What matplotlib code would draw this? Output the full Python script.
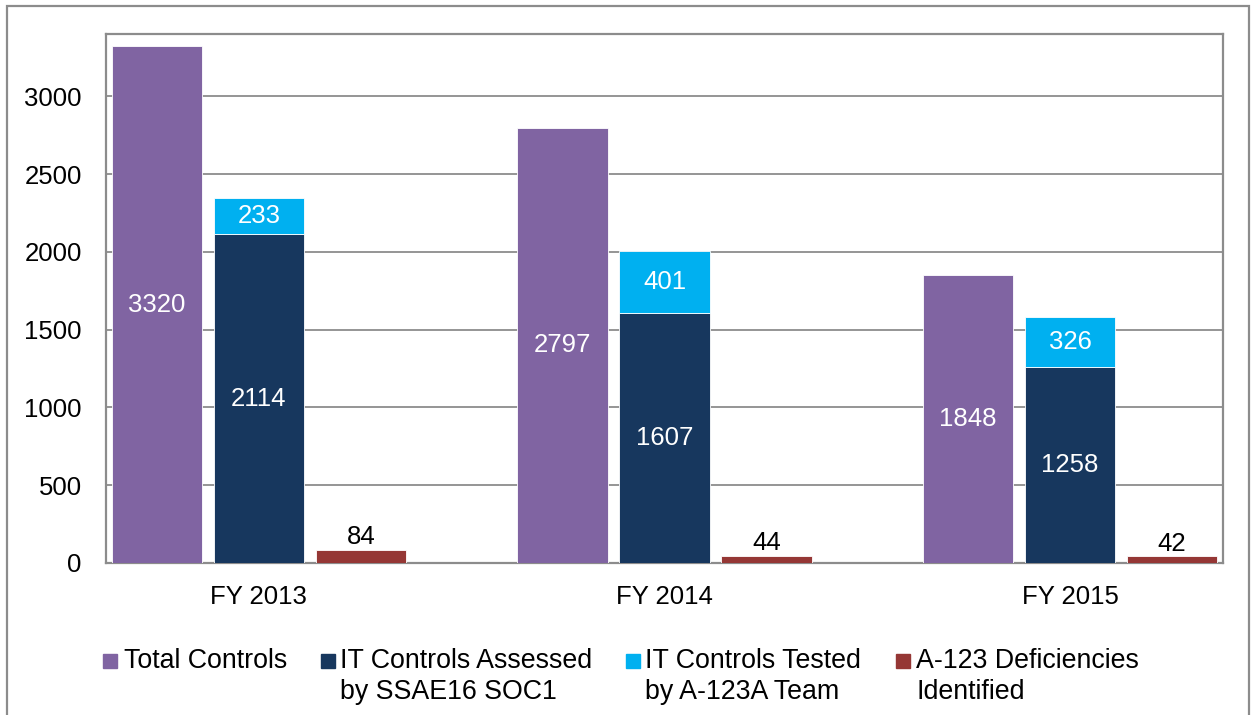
import numpy as np
import matplotlib.pyplot as plt
from matplotlib.patches import Rectangle

plt.rcParams['font.family'] = ['Liberation Sans', 'DejaVu Sans']

# data
years = ["FY 2013", "FY 2014", "FY 2015"]
total_controls = [3320, 2797, 1848]
it_assessed = [2114, 1607, 1258]
it_tested = [233, 401, 326]
deficiencies = [84, 44, 42]
legend_labels = [["Total Controls"],
                 ["IT Controls Assessed", "by SSAE16 SOC1"],
                 ["IT Controls Tested", "by A-123A Team"],
                 ["A-123 Deficiencies", "Identified"]]

c_purple = "#8064A2"
c_navy = "#17375E"
c_cyan = "#00B0F0"
c_red = "#953735"
colors = [c_purple, c_navy, c_cyan, c_red]
grid_c = "#8C8C8C"

W, H = 1253, 715
fig = plt.figure(figsize=(W / 100, H / 100), dpi=100)
ax = fig.add_axes([106 / W, 1 - 563 / H, 1117 / W, 529 / H])

x = np.arange(len(years))
w = 0.222
off = 0.2515
fs = 18.5

ax.bar(x - off, total_controls, w, color=c_purple, edgecolor="white", lw=0.6, zorder=3)
ax.bar(x, it_assessed, w, color=c_navy, edgecolor="white", lw=0.6, zorder=3)
ax.bar(x, it_tested, w, bottom=it_assessed, color=c_cyan, edgecolor="white", lw=0.6, zorder=3)
ax.bar(x + off, deficiencies, w, color=c_red, edgecolor="white", lw=0.6, zorder=3)

# value labels
for i in range(len(years)):
    ax.text(x[i] - off, total_controls[i] / 2, str(total_controls[i]), ha="center",
            va="center", color="white", fontsize=fs, zorder=4)
    ax.text(x[i], it_assessed[i] / 2, str(it_assessed[i]), ha="center",
            va="center", color="white", fontsize=fs, zorder=4)
    ax.text(x[i], it_assessed[i] + it_tested[i] / 2, str(it_tested[i]), ha="center",
            va="center", color="white", fontsize=fs, zorder=4)
    ax.annotate(str(deficiencies[i]), (x[i] + off, deficiencies[i]), xytext=(0, 0.5),
                textcoords="offset points", ha="center", va="bottom",
                color="black", fontsize=fs, zorder=4)

ax.set_xlim(-0.377, 2.377)
ax.set_ylim(0, 3400)
ax.set_yticks(np.arange(0, 3001, 500))
ax.set_xticks(x)
ax.set_xticklabels(years)
ax.tick_params(axis="both", length=0, labelsize=fs)
ax.tick_params(axis="y", pad=17.5)
ax.tick_params(axis="x", pad=16)
ax.yaxis.grid(True, color=grid_c, lw=1.3, zorder=0)
for s in ax.spines.values():
    s.set_color(grid_c)
    s.set_linewidth(1.6)

# legend (Excel style: marker beside first line of wrapped label)
marker_x = [103, 321, 626, 896]
text_x = [124, 340, 645, 916]
for col, mx, tx, lines in zip(colors, marker_x, text_x, legend_labels):
    fig.patches.append(Rectangle((mx / W, 1 - 668 / H), 14 / W, 14 / H,
                                 transform=fig.transFigure, color=col))
    for k, line in enumerate(lines):
        fig.text(tx / W, 1 - (668 + 31 * k) / H, line, ha="left", va="baseline",
                 fontsize=19.3)

# outer chart frame
fig.patches.append(Rectangle((7 / W, -0.05), 1242 / W, 1 - 6 / H + 0.05,
                             transform=fig.transFigure, fill=False,
                             edgecolor="#8C8C8C", lw=1.6))

fig.savefig("out.png", dpi=100)
